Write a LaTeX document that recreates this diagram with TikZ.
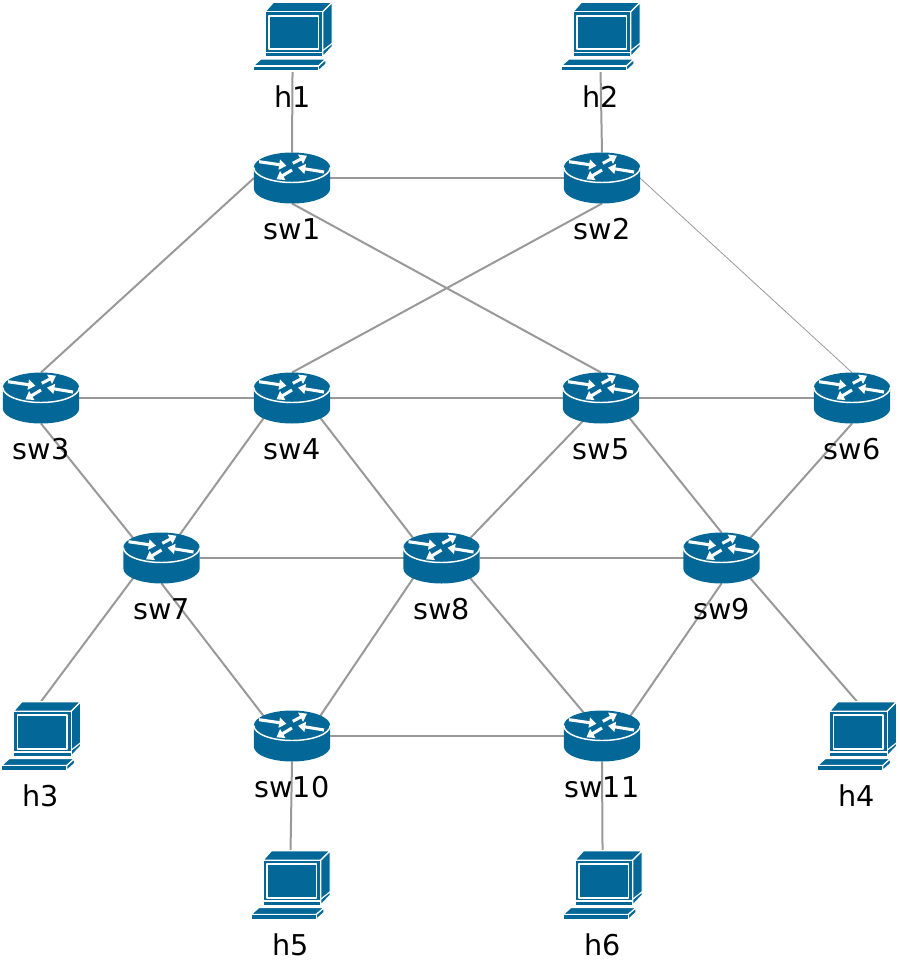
\documentclass[tikz,border=0pt]{standalone}
\usepackage{fontspec}
\setmainfont{DejaVu Sans}
\usetikzlibrary{arrows.meta,shapes.geometric,backgrounds}
\definecolor{iconblue}{HTML}{036897}
\definecolor{linkgray}{HTML}{999999}

\tikzset{
  sw node/.style={ellipse,inner sep=0pt,outer sep=0pt,minimum width=57pt,minimum height=38.25pt,
                  label={[name label]below:#1}},
  host node/.style={rectangle,inner sep=0pt,outer sep=0pt,minimum width=59pt,minimum height=51.75pt,
                  label={[name label]below:#1}},
  name label/.style={inner sep=0pt,label distance=12pt,text height=15pt,text depth=0pt,
                  font=\fontsize{21.5}{25}\selectfont},
  link/.style={draw=linkgray,line width=1.5pt},
  thin link/.style={draw=linkgray,line width=.6pt},
  flow/.style={white,line width=2.3pt,-{Triangle[width=7.5pt,length=5.5pt]}},
  router icon/.pic={
    \fill[iconblue] (-38.2,-10.5) -- (-38.2,10.5) arc[start angle=180,end angle=0,x radius=38.2,y radius=15]
      -- (38.2,-10.5) arc[start angle=0,end angle=-180,x radius=38.2,y radius=15] -- cycle;
    \draw[white,line width=1.1pt] (-38.2,-10.5) arc[start angle=180,end angle=0,x radius=38.2,y radius=15];
    \draw[flow] (-33,-16.3) -- (-5.5,-12.3);
    \draw[flow] (0.8,-14.7) -- (15,-22.3);
    \draw[flow] (32,-6) -- (6,-10.3);
    \draw[flow] (0,-8) -- (-15.5,1.3);
  },
  host icon/.pic={
    \begin{scope}[fill=iconblue,draw=white,line width=.9pt,line join=round]
      \filldraw (-27.5,-24.8) -- (-19.2,-34.2) -- (39.6,-34.2) -- (30.2,-24.8) -- cycle;
      \filldraw (30.2,-24.8) -- (39.6,-34.2) -- (39.6,10.2) -- (30.2,20.2) -- cycle;
      \filldraw (-27.5,-24.8) rectangle (30.2,20.2);
      \draw[line width=1.4pt] (-23.5,-20.8) rectangle (26,12.8);
      \draw[line width=1.3pt] (-27.5,16) -- (30.2,16);
      \draw (30.2,14.2) -- (39.6,6.8);
      \filldraw (-39.6,29.5) -- (-31.8,22.6) -- (33.5,22.6) -- (25.8,29.5) -- cycle;
      \filldraw (25.8,29.5) -- (33.5,22.6) -- (33.5,27.5) -- (25.8,34.5) -- cycle;
      \filldraw (-39.6,29.5) rectangle (25.8,34.5);
    \end{scope}
  }
}

\begin{document}
\begin{tikzpicture}[x=.75pt,y=-.75pt]

      \useasboundingbox (0,0) rectangle (899,963);

      \node[sw node=sw1] (sw1) at (292,178) {};
      \node[sw node=sw2,node distance=232.5pt] (sw2) [right of=sw1] {};
      \node[sw node=sw4,node distance=165pt] (sw4) [below of=sw1] {};
      \node[sw node=sw3,node distance=188.25pt] (sw3) [left of=sw4] {};
      \node[sw node=sw5,node distance=231.75pt] (sw5) [right of=sw4] {};
      \node[sw node=sw6,node distance=188.25pt] (sw6) [right of=sw5] {};
      \node[sw node=sw7,node distance=120pt,xshift=90.4pt] (sw7) [below of=sw3] {};
      \node[sw node=sw8,node distance=210pt] (sw8) [right of=sw7] {};
      \node[sw node=sw9,node distance=210pt] (sw9) [right of=sw8] {};
      \node[sw node=sw10,node distance=253.5pt] (sw10) [below of=sw4] {};
      \node[sw node=sw11,node distance=232.5pt] (sw11) [right of=sw10] {};
      \node[host node=h1,node distance=106.1pt,xshift=.4pt] (h1) [above of=sw1] {};
      \node[host node=h2,node distance=106.1pt,xshift=-1.1pt] (h2) [above of=sw2] {};
      \node[host node=h3,node distance=188.25pt] (h3) [left of=sw10] {};
      \node[host node=h4,node distance=191.25pt] (h4) [right of=sw11] {};
      \node[host node=h5,node distance=111.75pt,xshift=-1.1pt] (h5) [below of=sw10] {};
      \node[host node=h6,node distance=111.75pt,xshift=.4pt] (h6) [below of=sw11] {};

      \foreach \n in {sw1,sw2,sw3,sw4,sw5,sw6,sw7,sw8,sw9,sw10,sw11}
        \pic at (\n) {router icon};
      \foreach \n in {h1,h2,h3,h4,h5,h6}
        \pic at (\n) {host icon};

      \begin{scope}[on background layer]
      \path[link]
        (h1.south) edge (sw1.north)
        (h2.south) edge (sw2.north)
        (sw1.east) edge (sw2.west)
        (sw1.west) edge (sw3.north)
        (sw1.south) edge (sw5.north)
        (sw2.south) edge (sw4.north)
        (sw3.east) edge (sw4.west)
        (sw4.east) edge (sw5.west)
        (sw5.east) edge (sw6.west)
        (sw3.south) edge (sw7.north west)
        (sw4.south west) edge (sw7.52)
        (sw4.south east) edge (sw8.north west)
        (sw5.232) edge (sw8.north east)
        (sw5.south east) edge (sw9.north)
        (sw6.south) edge (sw9.north east)
        (sw7.east) edge (sw8.west)
        (sw8.east) edge (sw9.west)
        (sw7.south) edge (sw10.north west)
        (sw8.south west) edge (sw10.north east)
        (sw8.south east) edge (sw11.128)
        (sw9.south) edge (sw11.north east)
        (sw10.east) edge (sw11.west)
        (sw7.south west) edge (h3.north)
        (sw9.south east) edge (h4.north)
        (sw10.south) edge (h5.north)
        (sw11.south) edge (h6.north);
      \path[thin link] (sw2.east) edge (sw6.north);
      \end{scope}
    \end{tikzpicture}
\end{document}
